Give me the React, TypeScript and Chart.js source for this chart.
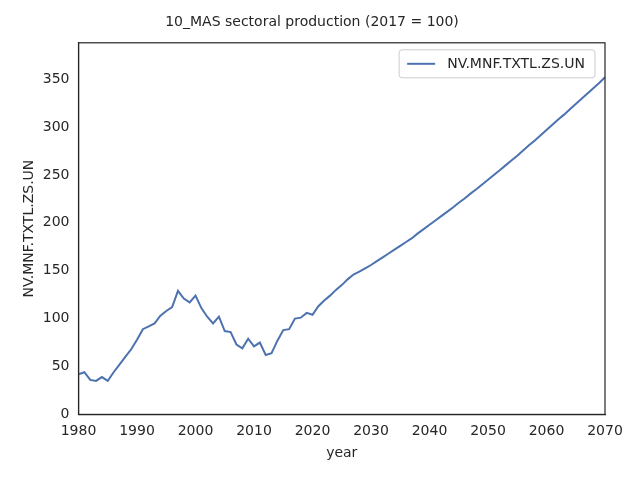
import React, { useEffect, useRef } from "react";
import { Chart, registerables } from "chart.js";
Chart.register(...registerables);

const years: number[] = [];
for (let y = 1980; y <= 2070; y++) years.push(y);
const values: number[] = [
  42, 44, 36, 35, 39, 35, 44, 52, 60, 68,
  78, 89, 92, 95, 103, 108, 112, 129, 121, 117,
  124, 111, 102, 95, 102, 87, 86, 73, 69, 79,
  71, 75, 62, 64, 77, 88, 89, 100, 101, 106,
  104, 113, 119, 124, 130, 135, 141, 146, 149, 152.5,
  156, 160, 164, 168, 172, 176, 180, 184, 189, 193.5,
  198, 202.5, 207, 211.5, 216, 221, 225.5, 230.5, 235, 240,
  245, 250, 255, 260, 265, 270, 275.5, 281, 286, 291.5,
  297, 302.5, 308, 313, 318.5, 324, 329.5, 335, 340.5, 346,
  352,
];
const seriesName = "NV.MNF.TXTL.ZS.UN";
const title = "10_MAS sectoral production (2017 = 100)";
const yTicks = [0, 50, 100, 150, 200, 250, 300, 350];

export default function App() {
  const ref = useRef<HTMLCanvasElement>(null);
  useEffect(() => {
    const font = { family: "DejaVu Sans", size: 14, weight: "normal" as const };
    const c = new Chart(ref.current!, {
      type: "line",
      data: {
        datasets: [{
          label: seriesName,
          data: years.map((x, i) => ({ x, y: values[i] })),
          borderColor: "#4c72b0",
          backgroundColor: "#4c72b0",
          borderWidth: 2,
          pointRadius: 0,
          tension: 0,
        }],
      },
      options: {
        animation: false,
        responsive: false,
        layout: { padding: { top: 0, right: 27, left: 11, bottom: 8 } },
        plugins: {
          title: { display: true, text: title, color: "#262626", font, padding: { top: 6, bottom: 12 } },
          legend: { display: false },
          tooltip: { enabled: false },
        },
        scales: {
          x: {
            type: "linear", min: 1980, max: 2070,
            title: { display: true, text: "year", color: "#262626", font, padding: 2 },
            ticks: { stepSize: 10, color: "#262626", font, callback: (v: any) => String(v) },
            grid: { display: false, drawTicks: true, tickLength: 6, tickColor: "#262626" },
            border: { color: "#262626", width: 1.2 },
          },
          y: {
            min: 0, max: 388,
            afterBuildTicks: (ax: any) => { ax.ticks = yTicks.map((v) => ({ value: v })); },
            title: { display: true, text: seriesName, color: "#262626", font, padding: 2 },
            ticks: { color: "#262626", font },
            grid: { display: false, drawTicks: true, tickLength: 6, tickColor: "#262626" },
            border: { color: "#262626", width: 1.2 },
          },
        },
      },
      plugins: [{
        id: "frame",
        afterDraw(ch: any) {
          const { ctx, chartArea: a } = ch;
          ctx.save();
          ctx.strokeStyle = "#262626";
          ctx.lineWidth = 1.2;
          ctx.strokeRect(a.left, a.top, a.right - a.left, a.bottom - a.top);
          // legend
          ctx.font = "14px 'DejaVu Sans'";
          const tw = ctx.measureText(seriesName).width;
          const w = tw + 58, h = 28;
          const x = a.right - 10 - w, y = a.top + 7;
          ctx.fillStyle = "rgba(255,255,255,0.8)";
          ctx.strokeStyle = "#cccccc";
          ctx.lineWidth = 1;
          ctx.beginPath();
          ctx.roundRect(x, y, w, h, 3);
          ctx.fill();
          ctx.stroke();
          ctx.strokeStyle = "#4c72b0";
          ctx.lineWidth = 2;
          ctx.beginPath();
          ctx.moveTo(x + 8, y + h / 2);
          ctx.lineTo(x + 36, y + h / 2);
          ctx.stroke();
          ctx.fillStyle = "#262626";
          ctx.textBaseline = "middle";
          ctx.fillText(seriesName, x + 48, y + h / 2 + 1);
          ctx.restore();
        },
      }],
    } as any);
    return () => c.destroy();
  }, []);
  return <canvas ref={ref} width={624} height={464} style={{ display: "block" }} />;
}
